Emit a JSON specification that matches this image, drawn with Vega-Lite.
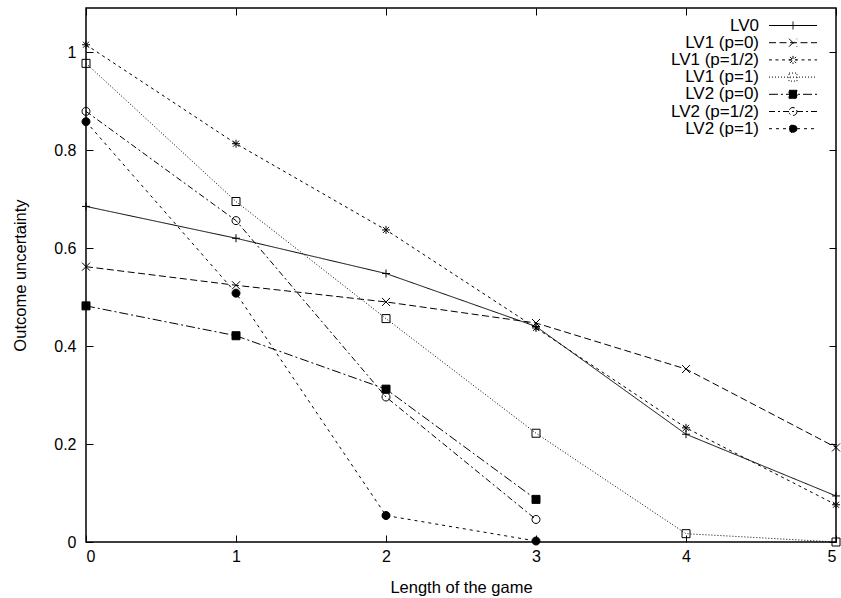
{
  "$schema": "https://vega.github.io/schema/vega-lite/v6.json",
  "width": 750,
  "height": 534,
  "autosize": {"type": "none"},
  "padding": {"left": 86, "top": 8, "right": 5, "bottom": 56},
  "background": "white",
  "config": {
    "view": {"stroke": "black", "strokeWidth": 1.5},
    "font": "Liberation Sans",
    "axis": {"grid": false, "domain": false, "tickColor": "black", "tickWidth": 1, "tickSize": -7, "labelColor": "black", "titleColor": "black", "labelFont": "Liberation Sans", "titleFont": "Liberation Sans", "labelFontSize": 16, "titleFontSize": 16.5, "titleFontWeight": "normal"}
  },
  "data": {"values": [
    {"s": "LV0", "x": 0, "y": 0.685}, {"s": "LV0", "x": 1, "y": 0.62}, {"s": "LV0", "x": 2, "y": 0.548}, {"s": "LV0", "x": 3, "y": 0.44}, {"s": "LV0", "x": 4, "y": 0.22}, {"s": "LV0", "x": 5, "y": 0.094},
    {"s": "LV1 (p=0)", "x": 0, "y": 0.562}, {"s": "LV1 (p=0)", "x": 1, "y": 0.524}, {"s": "LV1 (p=0)", "x": 2, "y": 0.49}, {"s": "LV1 (p=0)", "x": 3, "y": 0.447}, {"s": "LV1 (p=0)", "x": 4, "y": 0.353}, {"s": "LV1 (p=0)", "x": 5, "y": 0.193},
    {"s": "LV1 (p=1/2)", "x": 0, "y": 1.015}, {"s": "LV1 (p=1/2)", "x": 1, "y": 0.813}, {"s": "LV1 (p=1/2)", "x": 2, "y": 0.637}, {"s": "LV1 (p=1/2)", "x": 3, "y": 0.437}, {"s": "LV1 (p=1/2)", "x": 4, "y": 0.233}, {"s": "LV1 (p=1/2)", "x": 5, "y": 0.076},
    {"s": "LV1 (p=1)", "x": 0, "y": 0.977}, {"s": "LV1 (p=1)", "x": 1, "y": 0.695}, {"s": "LV1 (p=1)", "x": 2, "y": 0.456}, {"s": "LV1 (p=1)", "x": 3, "y": 0.222}, {"s": "LV1 (p=1)", "x": 4, "y": 0.017}, {"s": "LV1 (p=1)", "x": 5, "y": 0.0},
    {"s": "LV2 (p=0)", "x": 0, "y": 0.482}, {"s": "LV2 (p=0)", "x": 1, "y": 0.421}, {"s": "LV2 (p=0)", "x": 2, "y": 0.312}, {"s": "LV2 (p=0)", "x": 3, "y": 0.087},
    {"s": "LV2 (p=1/2)", "x": 0, "y": 0.879}, {"s": "LV2 (p=1/2)", "x": 1, "y": 0.656}, {"s": "LV2 (p=1/2)", "x": 2, "y": 0.296}, {"s": "LV2 (p=1/2)", "x": 3, "y": 0.046},
    {"s": "LV2 (p=1)", "x": 0, "y": 0.858}, {"s": "LV2 (p=1)", "x": 1, "y": 0.508}, {"s": "LV2 (p=1)", "x": 2, "y": 0.054}, {"s": "LV2 (p=1)", "x": 3, "y": 0.002}
  ]},
  "resolve": {
    "scale": {"x": "shared", "y": "shared", "shape": "independent", "fill": "independent", "strokeDash": "independent"},
    "axis": {"x": "independent", "y": "independent"},
    "legend": {"shape": "independent", "fill": "independent", "strokeDash": "independent"}
  },
  "layer": [
    {
      "mark": {"type": "line", "stroke": "black", "strokeWidth": 1},
      "encoding": {
        "x": {"field": "x", "type": "quantitative", "scale": {"domain": [0, 5], "nice": false}, "axis": {"values": [0, 1, 2, 3, 4, 5], "title": "Length of the game", "labelPadding": 13, "titlePadding": 15, "format": "d"}},
        "y": {"field": "y", "type": "quantitative", "scale": {"domain": [0, 1.09], "nice": false}, "axis": {"values": [0, 0.2, 0.4, 0.6, 0.8, 1], "format": "~g", "title": "Outcome uncertainty", "labelPadding": 17, "titlePadding": 25}},
        "strokeDash": {"field": "s", "type": "nominal", "legend": null, "scale": {"domain": ["LV0", "LV1 (p=0)", "LV1 (p=1/2)", "LV1 (p=1)", "LV2 (p=0)", "LV2 (p=1/2)", "LV2 (p=1)"], "range": [[1, 0], [7, 3.5], [3, 3.5], [1, 2], [9, 3, 2, 3], [6, 3, 2, 3], [3, 4]]}}
      }
    },
    {
      "mark": {"type": "point", "filled": true, "stroke": "black", "strokeWidth": 1, "size": 64, "opacity": 1},
      "encoding": {
        "x": {"field": "x", "type": "quantitative", "axis": {"orient": "top", "values": [0, 1, 2, 3, 4, 5], "labels": false, "title": null}},
        "y": {"field": "y", "type": "quantitative", "axis": {"orient": "right", "values": [0, 0.2, 0.4, 0.6, 0.8, 1], "labels": false, "title": null}},
        "fill": {"field": "s", "type": "nominal", "legend": null, "scale": {"domain": ["LV0", "LV1 (p=0)", "LV1 (p=1/2)", "LV1 (p=1)", "LV2 (p=0)", "LV2 (p=1/2)", "LV2 (p=1)"], "range": ["transparent", "transparent", "transparent", "transparent", "black", "transparent", "black"]}},
        "shape": {"field": "s", "type": "nominal", "legend": null,
          "scale": {"domain": ["LV0", "LV1 (p=0)", "LV1 (p=1/2)", "LV1 (p=1)", "LV2 (p=0)", "LV2 (p=1/2)", "LV2 (p=1)"], "range": ["M-1,0H1M0,-1V1", "M-1,-1L1,1M-1,1L1,-1", "M-1,0H1M0,-1V1M-0.75,-0.75L0.75,0.75M-0.75,0.75L0.75,-0.75", "M-1,-1H1V1H-1Z", "M-1,-1H1V1H-1Z", "M1,0A1,1,0,1,1,-1,0A1,1,0,1,1,1,0Z", "M1,0A1,1,0,1,1,-1,0A1,1,0,1,1,1,0Z"]}}
      }
    },
    {
      "transform": [{"filter": "false"}],
      "mark": {"type": "point", "filled": true, "stroke": "black", "strokeWidth": 1, "size": 64, "opacity": 1},
      "encoding": {
        "x": {"field": "x", "type": "quantitative", "axis": null},
        "y": {"field": "y", "type": "quantitative", "axis": null},
        "fill": {"field": "s", "type": "nominal", "title": null, "scale": {"domain": ["LV0", "LV1 (p=0)", "LV1 (p=1/2)", "LV1 (p=1)", "LV2 (p=0)", "LV2 (p=1/2)", "LV2 (p=1)"], "range": ["transparent", "transparent", "transparent", "transparent", "black", "transparent", "black"]}},
        "strokeDash": {"field": "s", "type": "nominal", "title": null, "scale": {"domain": ["LV0", "LV1 (p=0)", "LV1 (p=1/2)", "LV1 (p=1)", "LV2 (p=0)", "LV2 (p=1/2)", "LV2 (p=1)"], "range": [[1, 0], [7, 3.5], [3, 3.5], [1, 2], [9, 3, 2, 3], [6, 3, 2, 3], [3, 4]]}},
        "shape": {"field": "s", "type": "nominal", "title": null,
          "scale": {"domain": ["LV0", "LV1 (p=0)", "LV1 (p=1/2)", "LV1 (p=1)", "LV2 (p=0)", "LV2 (p=1/2)", "LV2 (p=1)"], "range": ["M-6,0H6M-1,0H1M0,-1V1", "M-6,0H6M-1,-1L1,1M-1,1L1,-1", "M-6,0H6M-1,0H1M0,-1V1M-0.75,-0.75L0.75,0.75M-0.75,0.75L0.75,-0.75", "M-6,0H6M-1,-1H1V1H-1Z", "M-6,0H6M-1,-1H1V1H-1Z", "M-6,0H6M1,0A1,1,0,1,1,-1,0A1,1,0,1,1,1,0Z", "M-6,0H6M1,0A1,1,0,1,1,-1,0A1,1,0,1,1,1,0Z"]},
          "legend": {
            "title": null, "orient": "none", "legendX": 698.5, "legendY": 9, "padding": 0,
            "symbolSize": 64, "rowPadding": -0.8, "labelFontSize": 17, "labelFont": "Liberation Sans", "labelColor": "black",
            "labelAlign": "right", "labelOffset": -42.5, "labelLimit": 300, "symbolStrokeWidth": 1
          }
        }
      }
    }
  ]
}
